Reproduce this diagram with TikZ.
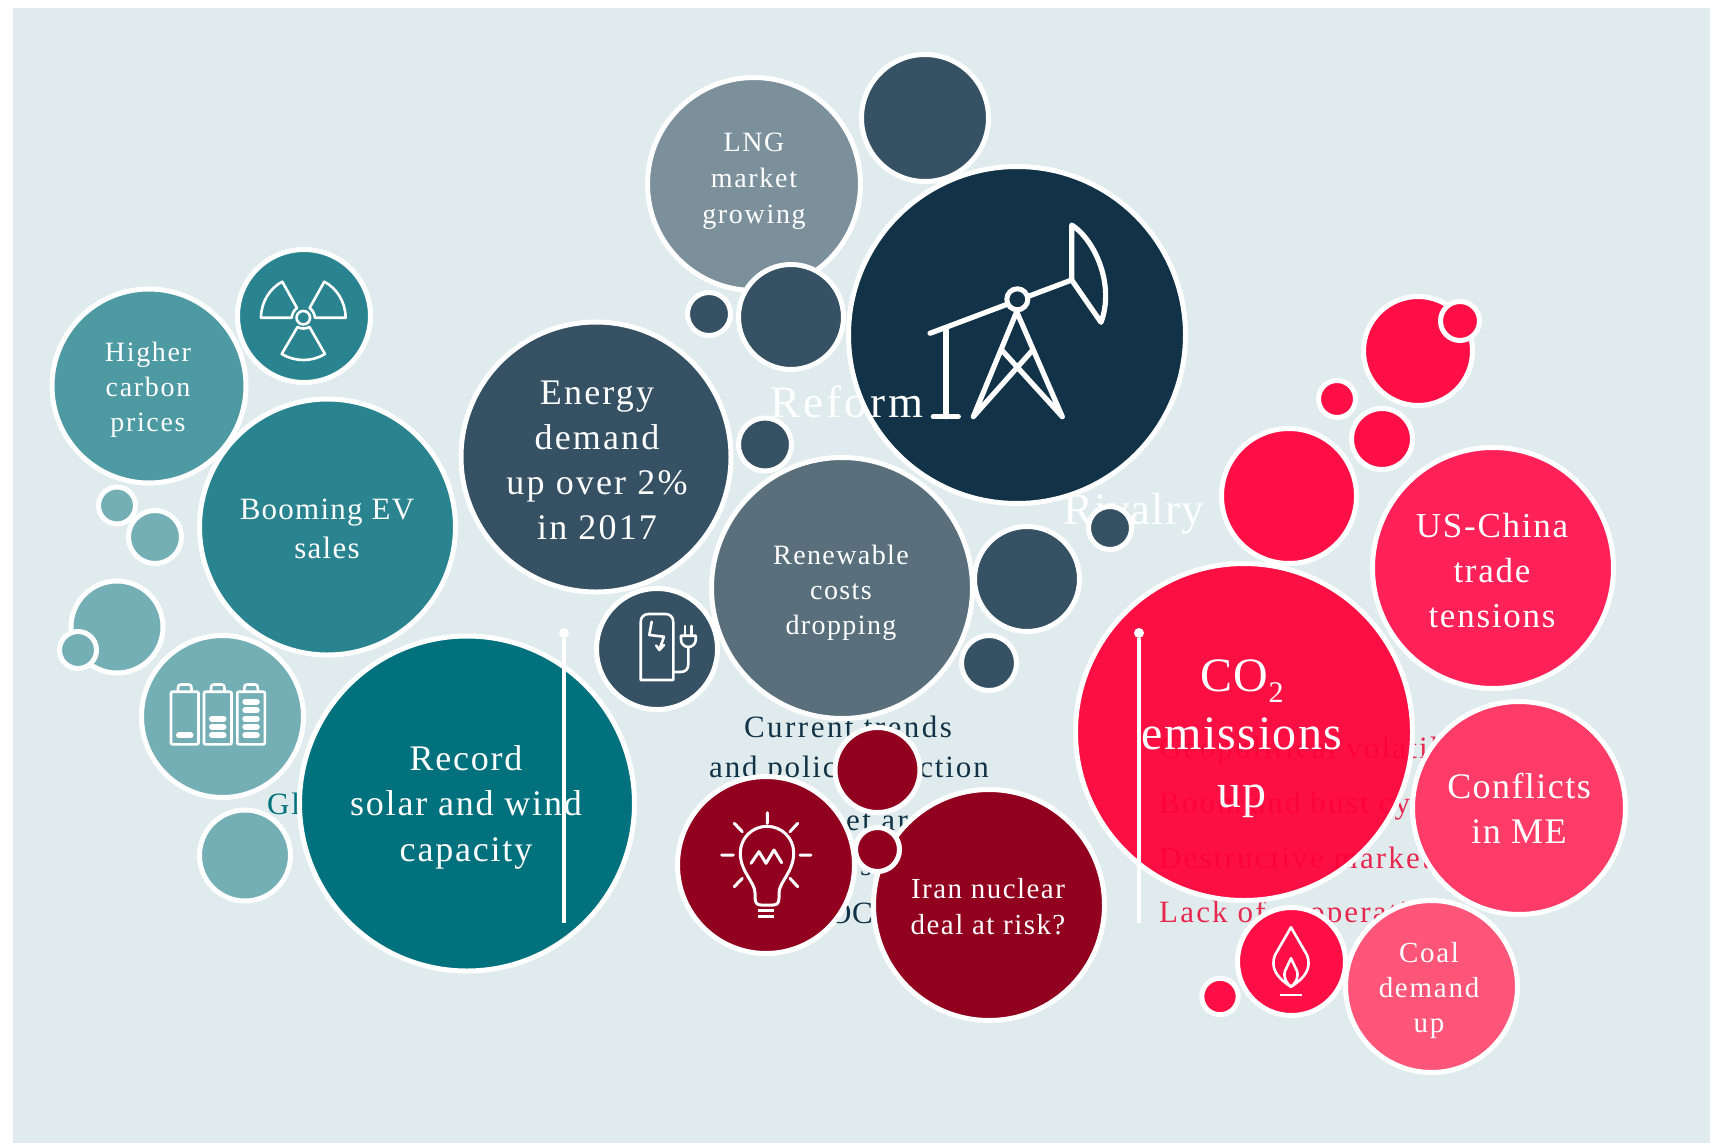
\documentclass[tikz,border=0pt]{standalone}
\usepackage{fontspec}
\setmainfont{Liberation Serif}
\usetikzlibrary{shapes.geometric}
\definecolor{bgc}{HTML}{DFEBEC}
\definecolor{slate}{HTML}{355163}
\definecolor{oilc}{HTML}{123347}
\definecolor{renc}{HTML}{596F7B}
\definecolor{lngc}{HTML}{7C909B}
\definecolor{tealA}{HTML}{2A848F}
\definecolor{tealB}{HTML}{4D9AA3}
\definecolor{tealC}{HTML}{74AFB6}
\definecolor{tealD}{HTML}{00717D}
\definecolor{wine}{HTML}{91001F}
\definecolor{redA}{HTML}{FF0F45}
\definecolor{redG}{HTML}{FF0038}
\definecolor{redB}{HTML}{FF2158}
\definecolor{redC}{HTML}{FF3C68}
\definecolor{redD}{HTML}{FF5579}
\definecolor{redT}{HTML}{E8274F}
\newcommand\ts[3]{\fontsize{#1}{#2}\selectfont\addfontfeature{LetterSpace=#3}}
\newcommand\bub[5]{\node[bubble,fill=#5,minimum size=2*#4+5pt] (#1) at (#2,#3) {};}
\tikzset{
  bubble/.style={circle,draw=white,line width=5pt,inner sep=0pt,outer sep=0pt},
  wtext/.style={text=white,align=center,inner sep=0pt},
  dtext/.style={text=oilc,align=center,inner sep=0pt},
  rtext/.style={text=redT,anchor=base west,inner sep=0pt},
  icon/.style={draw=white,line width=2.6pt,line cap=round,line join=round},
  pump/.style={draw=white,line width=5.2pt,line cap=round,line join=round},
  vline/.style={draw=white,line width=3.2pt},
  vdot/.style={circle,fill=white,inner sep=0pt,minimum size=10pt},
}
\begin{document}
\begin{tikzpicture}[x=1pt,y=-1pt]
\useasboundingbox (0,0) rectangle (1719,1143);
\fill[bgc] (13,8) rectangle (1710,1143);
% texts lying behind the bubbles
\node[text=tealD,anchor=base west,inner sep=0pt,font=\ts{31}{31}{6}] (gl) at (267,814) {Gl};
\node[dtext,anchor=base,font=\ts{31}{31}{8}] (cur1) at (848,737) {Current trends};
\node[dtext,anchor=base,font=\ts{31}{31}{6}] (cur2) at (849,777) {and policy direction};
\node[dtext,anchor=base west,font=\ts{31}{31}{8}] (cur3) at (846,830) {et ar};
\node[dtext,anchor=base west,font=\ts{31}{31}{8}] (cur4) at (860,875) {s.};
\node[dtext,anchor=base west,font=\ts{31}{31}{2}] (cur5) at (829,923) {OC};
\node[rtext,font=\ts{31}{31}{7}] (geo1) at (1159,758) {Geopolitical volatility};
\node[rtext,font=\ts{31}{31}{7}] (geo2) at (1159,813) {Boom and bust cycles};
\node[rtext,font=\ts{31}{31}{7}] (geo3) at (1159,868) {Destructive market};
\node[rtext,font=\ts{31}{31}{7}] (geo4) at (1159,922) {Lack of cooperation};
% slate group
\bub{lng}{754}{184}{104}{lngc}
\bub{topd}{925}{118}{61}{slate}
\bub{oil}{1017}{335}{166}{oilc}
\bub{sd}{791}{317}{50}{slate}
\bub{td}{709}{314}{19}{slate}
\bub{td2}{765}{444.5}{24}{slate}
\bub{energy}{596}{457}{132.5}{slate}
\bub{ren}{842}{588}{128}{renc}
\bub{ev}{657}{649}{58}{slate}
\bub{sd2}{1027}{579}{50}{slate}
\bub{sd3}{989}{663}{25}{slate}
% teal group
\bub{nuke}{304}{316}{64}{tealA}
\bub{higher}{149}{386}{94.5}{tealB}
\bub{boom}{327.5}{527}{125.5}{tealA}
\bub{p1}{117}{505.5}{16}{tealC}
\bub{p2}{155}{537}{24}{tealC}
\bub{p3}{117}{627}{43.5}{tealC}
\bub{p4}{78}{650}{16}{tealC}
\bub{batt}{222.5}{716.5}{78.5}{tealC}
\bub{p5}{245}{855.5}{43}{tealC}
\bub{record}{467}{803.5}{165}{tealD}
% wine group
\bub{bulb}{766}{865}{86}{wine}
\bub{w1}{877.5}{770}{40}{wine}
\bub{iran}{989}{905}{113}{wine}
\bub{w2}{877.5}{849.5}{19.5}{wine}
% red group
\node[circle,fill=redG,fill opacity=.93,draw=white,line width=5pt,inner sep=0pt,minimum size=337pt] (co2) at (1244,732) {};
\bub{r1}{1289}{496}{65}{redA}
\bub{r2}{1382}{439}{28}{redA}
\bub{r3}{1418}{351}{52}{redA}
\bub{r4}{1460}{321}{17}{redA}
\bub{r5}{1337}{399}{16}{redA}
\bub{us}{1493}{568}{118}{redB}
\bub{conf}{1519}{808}{104}{redC}
\bub{coal}{1431.5}{986.5}{83.5}{redD}
\bub{flame}{1291.5}{961.5}{51.5}{redA}
\bub{r6}{1220}{996.5}{15.7}{redA}
% vertical lines
\node[vdot] (d1) at (564,633) {};
\coordinate (e1) at (564,923);
\draw[vline] (d1) -- (e1);
\node[vdot] (d2) at (1139,633) {};
\coordinate (e2) at (1139,923);
\draw[vline] (d2) -- (e2);
% bubble texts
\node[wtext,font=\ts{28}{36}{6}] (t1) at (754,181) {LNG\\market\\growing};
\node[wtext,font=\ts{36}{45}{6}] (t2) at (597,460) {Energy\\demand\\up over 2\%\\in 2017};
\node[wtext,font=\ts{28}{35}{6}] (t3) at (148,390) {Higher\\carbon\\prices};
\node[wtext,font=\ts{31}{39.5}{4}] (t4) at (327,529) {Booming EV\\sales};
\node[wtext,font=\ts{36}{45.5}{5}] (t5) at (466,807) {Record\\solar and wind\\capacity};
\node[wtext,font=\ts{28}{35}{5}] (t6) at (841,593) {Renewable\\costs\\dropping};
\node[wtext,font=\ts{29}{36}{5}] (t7) at (988,907) {Iran nuclear\\deal at risk?};
\node[wtext,font=\ts{35}{45}{5}] (t8) at (1492,571) {US-China\\trade\\tensions};
\node[wtext,font=\ts{36}{45}{4}] (t9) at (1519,808) {Conflicts\\in ME};
\node[wtext,font=\ts{29}{35}{6}] (t10) at (1429,991) {Coal\\demand\\up};
\node[wtext,font=\ts{48}{58}{3}] (t11) at (1242,739) {CO\raisebox{-11pt}{\fontsize{30}{30}\selectfont 2}\\emissions\\up};
\node[text=white,anchor=base west,inner sep=0pt,font=\ts{45}{45}{7}] (reform) at (770,417) {Reform};
\node[text=white,anchor=base west,inner sep=0pt,font=\ts{45}{45}{2}] (rivalry) at (1063,524) {Rivalry};
\bub{td3}{1110}{528}{19}{slate}
% pump jack icon
\draw[pump] (930,333.3) -- (1071.7,280);
\draw[pump] (1071.7,280) -- (1071.7,225) .. controls (1095,240) and (1115,285) .. (1101,322.3) -- cycle;
\draw[pump] (946,330) -- (946,416.7) (933.3,416.7) -- (958.3,416.7);
\draw[pump] (1032.7,350) -- (973.3,416.7) -- (1016.7,311.7) -- (1062.3,416.7) -- (1001.7,350);
\node[circle,draw=white,fill=oilc,line width=5pt,inner sep=0pt,minimum size=21pt] (pivot) at (1017.3,299.3) {};
% bulb icon
\draw[icon,line width=3pt] (755,897) -- (755,893) .. controls (755,882) and (740.3,872) .. (740.3,853) .. controls (740.3,838) and (752.3,826.3) .. (767,826.3) .. controls (781.7,826.3) and (793.7,838) .. (793.7,853) .. controls (793.7,872) and (779,882) .. (779,893) -- (779,898) .. controls (779,903) and (777,905) .. (773,905) -- (761,905) .. controls (757,905) and (755,903) .. (755,897) -- cycle;
\draw[icon,line cap=butt,line width=3pt] (758,910) -- (774,910) (758,916) -- (774,916);
\draw[icon,line width=3pt] (751,863.3) -- (759,851.7) -- (766,863.3) -- (774,850) -- (781.7,862.7);
\draw[icon,line width=3pt] (767.3,812.7) -- (767.3,823.3) (721.7,855) -- (733.3,855) (800,855) -- (811,855)
  (734.3,823.3) -- (742.3,831.7) (797.7,823.3) -- (790,831.7) (734.3,886.7) -- (742.3,878.3) (797.7,886.7) -- (790,878.3);
% flame icon
\draw[icon] (1291,927.3) -- (1275,955) .. controls (1270,968) and (1277,978) .. (1291,986.7) .. controls (1305,978) and (1312,968) .. (1307,955) -- cycle;
\draw[icon] (1291,958.3) -- (1285,971) .. controls (1283,978) and (1287,984) .. (1291,986.7) .. controls (1295,984) and (1299,978) .. (1297,971) -- cycle;
\draw[icon,line cap=butt] (1280,995) -- (1302.3,995);
% charger icon
\draw[icon] (640.7,680) -- (640.7,622) .. controls (640.7,617) and (644,614) .. (648.7,614) -- (665.3,614) .. controls (670,614) and (673.3,617) .. (673.3,622) -- (673.3,680) -- cycle;
\draw[icon] (651.7,621.7) -- (649.3,635) -- (664,636.7) -- (659.3,650) (656.2,645.5) -- (659.3,650) -- (664,645);
\draw[icon] (685,626) -- (685,635.7) (691.5,626) -- (691.5,635.7);
\draw[icon] (681,635.7) -- (695.7,635.7) -- (695.7,640) .. controls (695.7,644) and (692,647) .. (688.3,647) .. controls (684.7,647) and (681,644) .. (681,640) -- cycle;
\draw[icon] (688.3,647) -- (688.3,664) .. controls (688.3,669) and (686,672) .. (680,672) -- (673.3,672);
% battery icons
\foreach \bx/\bn in {171/1,204/3,237.3/5}{
  \draw[icon] (\bx,693) .. controls (\bx,692) and (\bx+1,691.7) .. (\bx+2,691.7) -- (\bx+25.5,691.7) .. controls (\bx+26.5,691.7) and (\bx+27.5,692) .. (\bx+27.5,693) -- (\bx+27.5,743) .. controls (\bx+27.5,744) and (\bx+26.5,744.3) .. (\bx+25.5,744.3) -- (\bx+2,744.3) .. controls (\bx+1,744.3) and (\bx,744) .. (\bx,743) -- cycle;
  \draw[icon] (\bx+7,691.7) -- (\bx+7,688) .. controls (\bx+7,685) and (\bx+8,684.5) .. (\bx+10,684.5) -- (\bx+17.5,684.5) .. controls (\bx+19.5,684.5) and (\bx+20.5,685) .. (\bx+20.5,688) -- (\bx+20.5,691.7);
  \foreach \by [count=\i] in {735.3,726.7,718.7,710.3,701.7}{
    \ifnum\i>\bn\else
      \draw[draw=white,line width=6pt,line cap=round] (\bx+8,\by) -- (\bx+19.5,\by);
    \fi
  }
}
% nuclear icon
\draw[icon] (261,317.7) .. controls (261,302) and (270,288) .. (282.3,281.7) -- (297,308) .. controls (294,310) and (292,314) .. (291.7,317.7) -- cycle;
\draw[icon] (345.6,317.7) .. controls (345.6,302) and (336.6,288) .. (324.3,281.7) -- (309.6,308) .. controls (312.6,310) and (314.6,314) .. (314.9,317.7) -- cycle;
\draw[icon] (281.7,354) -- (297.5,327) .. controls (301,329) and (306,329) .. (309.5,327) -- (325,354) .. controls (312,362) and (295,362) .. (281.7,354) -- cycle;
\node[circle,draw=white,line width=2.6pt,inner sep=0pt,minimum size=13.5pt] (core) at (303.3,317.7) {};
\end{tikzpicture}
\end{document}
